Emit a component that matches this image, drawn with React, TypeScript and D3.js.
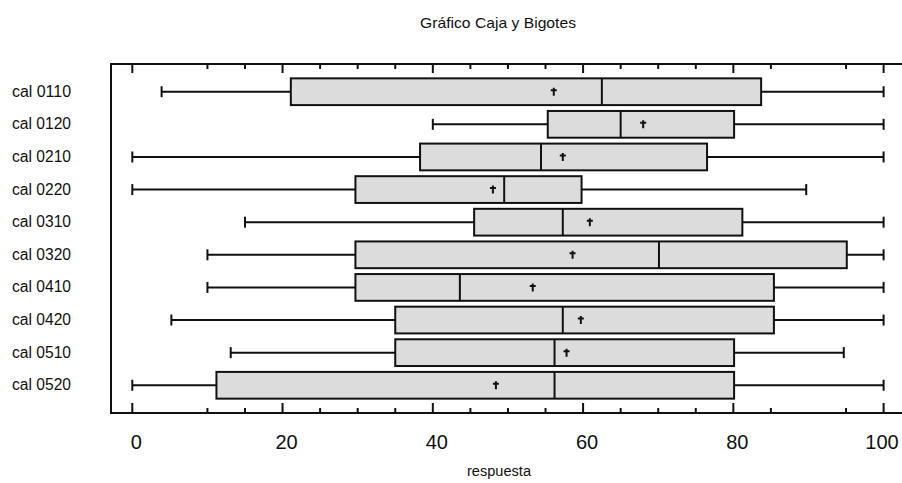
import { useEffect, useRef } from 'react';
import * as d3 from 'd3';

// Box-and-whisker summary per calibration group
const categories = ['cal 0110', 'cal 0120', 'cal 0210', 'cal 0220', 'cal 0310', 'cal 0320', 'cal 0410', 'cal 0420', 'cal 0510', 'cal 0520'];
const mins = [3.9, 40, 0, 0, 15, 10, 10, 5.2, 13.1, 0];
const q1s = [21.1, 55.3, 38.3, 29.7, 45.5, 29.7, 29.7, 35.0, 35.0, 11.2];
const medians = [62.5, 65, 54.4, 49.5, 57.3, 70.1, 43.6, 57.3, 56.2, 56.2];
const means = [56.1, 68.0, 57.3, 48.0, 60.9, 58.6, 53.3, 59.7, 57.8, 48.4];
const q3s = [83.7, 80.1, 76.5, 59.8, 81.2, 95.1, 85.4, 85.4, 80.1, 80.1];
const maxs = [100, 100, 100, 89.7, 100, 100, 100, 100, 94.7, 100];

const majorTicks = [0, 20, 40, 60, 80, 100];
const minorTicks = [10, 15, 25, 30, 35, 45, 50, 55, 65, 70, 75, 85, 95];

const title = 'Gráfico Caja y Bigotes';
const xTitle = 'respuesta';

export default function App() {
  const svgRef = useRef<SVGSVGElement>(null);

  useEffect(() => {
    if (!svgRef.current) return;
    const W = 902;
    const H = 483;
    const frame = { left: 111, top: 64, right: 906, bottom: 413 };
    const font = "'Liberation Sans', Arial, sans-serif";
    const ink = '#111';

    const svg = d3.select(svgRef.current).attr('width', W).attr('height', H);
    svg.selectAll('*').remove();

    const x = d3.scaleLinear().domain([0, 100]).range([132.3, 883.6]);
    const y = d3.scaleBand<string>()
      .domain(categories)
      .range([frame.top, frame.bottom])
      .paddingInner(0.18)
      .paddingOuter(0.44);
    const bw = y.bandwidth();

    svg.append('rect').attr('width', W).attr('height', H).attr('fill', '#fff');

    // Title
    svg.append('text')
      .attr('x', 498)
      .attr('y', 28)
      .attr('text-anchor', 'middle')
      .attr('font-family', font)
      .attr('font-size', '15px')
      .attr('fill', ink)
      .attr('textLength', 156)
      .attr('lengthAdjust', 'spacingAndGlyphs')
      .text(title);

    // Frame
    svg.append('path')
      .attr('d', `M${frame.right},${frame.top}H${frame.left}V${frame.bottom}H${frame.right}`)
      .attr('fill', 'none')
      .attr('stroke', ink)
      .attr('stroke-width', 2);

    // Ticks on top (pointing down) and bottom (pointing up)
    const tickG = svg.append('g').attr('stroke', ink).attr('stroke-width', 2);
    majorTicks.forEach(t => {
      tickG.append('line').attr('x1', x(t)).attr('x2', x(t)).attr('y1', frame.top).attr('y2', frame.top + 9);
      tickG.append('line').attr('x1', x(t)).attr('x2', x(t)).attr('y1', frame.bottom).attr('y2', frame.bottom - 10);
    });
    minorTicks.forEach(t => {
      tickG.append('line').attr('x1', x(t)).attr('x2', x(t)).attr('y1', frame.top).attr('y2', frame.top + 5);
      tickG.append('line').attr('x1', x(t)).attr('x2', x(t)).attr('y1', frame.bottom).attr('y2', frame.bottom - 5);
    });

    // Tick labels (the last one is kept inside the window)
    svg.append('g')
      .selectAll('text')
      .data(majorTicks)
      .join('text')
      .attr('x', d => Math.min(x(d) + 4, 882))
      .attr('y', 449)
      .attr('text-anchor', 'middle')
      .attr('font-family', font)
      .attr('font-size', '20px')
      .attr('fill', ink)
      .text(d => String(d));

    // X title
    svg.append('text')
      .attr('x', 499)
      .attr('y', 476)
      .attr('text-anchor', 'middle')
      .attr('font-family', font)
      .attr('font-size', '14px')
      .attr('fill', ink)
      .attr('textLength', 64)
      .attr('lengthAdjust', 'spacingAndGlyphs')
      .text(xTitle);

    // Category labels
    svg.append('g')
      .selectAll('text')
      .data(categories)
      .join('text')
      .attr('x', 12)
      .attr('y', d => (y(d) as number) + bw / 2 + 5)
      .attr('font-family', font)
      .attr('font-size', '16px')
      .attr('fill', ink)
      .attr('textLength', 59)
      .attr('lengthAdjust', 'spacingAndGlyphs')
      .text(d => d);

    // Boxes
    const rows = svg.append('g')
      .selectAll('g')
      .data(categories.map((c, i) => ({ c, i })))
      .join('g')
      .attr('transform', d => `translate(0,${y(d.c)})`);

    const mid = bw / 2;
    const capH = 11;

    // Whiskers
    rows.append('line')
      .attr('x1', d => x(mins[d.i])).attr('x2', d => x(q1s[d.i]))
      .attr('y1', mid).attr('y2', mid)
      .attr('stroke', ink).attr('stroke-width', 2);
    rows.append('line')
      .attr('x1', d => x(q3s[d.i])).attr('x2', d => x(maxs[d.i]))
      .attr('y1', mid).attr('y2', mid)
      .attr('stroke', ink).attr('stroke-width', 2);
    rows.append('line')
      .attr('x1', d => x(mins[d.i])).attr('x2', d => x(mins[d.i]))
      .attr('y1', mid - capH / 2).attr('y2', mid + capH / 2)
      .attr('stroke', ink).attr('stroke-width', 2);
    rows.append('line')
      .attr('x1', d => x(maxs[d.i])).attr('x2', d => x(maxs[d.i]))
      .attr('y1', mid - capH / 2).attr('y2', mid + capH / 2)
      .attr('stroke', ink).attr('stroke-width', 2);

    // Box
    rows.append('rect')
      .attr('x', d => x(q1s[d.i]))
      .attr('width', d => x(q3s[d.i]) - x(q1s[d.i]))
      .attr('y', 0)
      .attr('height', bw)
      .attr('fill', '#dcdcdc')
      .attr('stroke', ink)
      .attr('stroke-width', 2);

    // Median
    rows.append('line')
      .attr('x1', d => x(medians[d.i])).attr('x2', d => x(medians[d.i]))
      .attr('y1', 0).attr('y2', bw)
      .attr('stroke', ink).attr('stroke-width', 2);

    // Mean marker (small cross)
    rows.append('path')
      .attr('d', d => {
        const cx = x(means[d.i]);
        return `M${cx},${mid - 4}V${mid + 4}M${cx - 3},${mid - 1.5}H${cx + 3}`;
      })
      .attr('stroke', ink)
      .attr('stroke-width', 2)
      .attr('fill', 'none');
  }, []);

  return (
    <div style={{ position: 'absolute', left: 0, top: 0 }}>
      <svg ref={svgRef} style={{ display: 'block' }}></svg>
    </div>
  );
}
